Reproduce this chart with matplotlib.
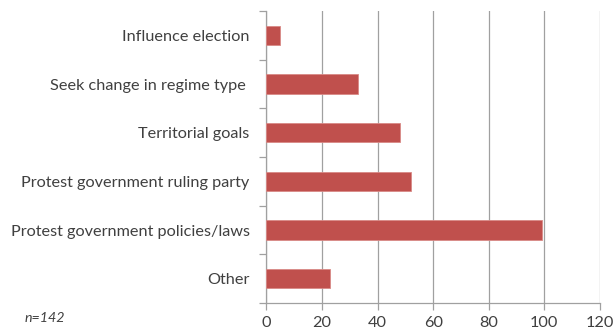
import numpy as np
import matplotlib.pyplot as plt
from matplotlib.ticker import FixedLocator

# motives for protest events, counts per category
categories = ["Influence election", "Seek change in regime type ", "Territorial goals",
              "Protest government ruling party", "Protest government policies/laws", "Other"]
counts = [5, 33, 48, 52, 99, 23]
xticks = [0, 20, 40, 60, 80, 100, 120]

plt.rcParams['font.family'] = ['Lato', 'DejaVu Sans']

bar_col = '#C0504D'
axis_col = '#A0A0A0'
text_col = '#404040'

fig = plt.figure(figsize=(6.13, 3.34), dpi=100)
ax = fig.add_axes([0.4344, 0.0928, 0.9788 - 0.4344, 0.967 - 0.0928])

y = np.arange(len(categories))
ax.barh(y, counts, height=0.4, color=bar_col, edgecolor='#D98A87', linewidth=0.6, zorder=3)

ax.set_ylim(len(categories) - 0.5, -0.5)
ax.set_xlim(0, 120)
ax.set_xticks(xticks)
ax.set_yticks(y)
ax.set_yticklabels(categories)
ax.yaxis.set_minor_locator(FixedLocator(np.arange(-0.5, len(categories), 1)))

ax.tick_params(axis='y', which='major', length=0, pad=12, labelsize=11.7, labelcolor=text_col)
ax.tick_params(axis='y', which='minor', length=5, color=axis_col, width=0.9)
ax.tick_params(axis='x', which='major', length=5, color=axis_col, width=0.9,
               labelsize=11.7, labelcolor=text_col, pad=4)

ax.grid(axis='x', color=axis_col, linewidth=0.9, zorder=0)
for side in ['top', 'right']:
    ax.spines[side].set_visible(False)
for side in ['left', 'bottom']:
    ax.spines[side].set_color(axis_col)
    ax.spines[side].set_linewidth(0.9)

fig.text(25 / 613, 1 - 318 / 334, "n=142", style='italic', fontsize=10.3,
         color=text_col, va='center', ha='left')

fig.savefig('out.png', dpi=100)
